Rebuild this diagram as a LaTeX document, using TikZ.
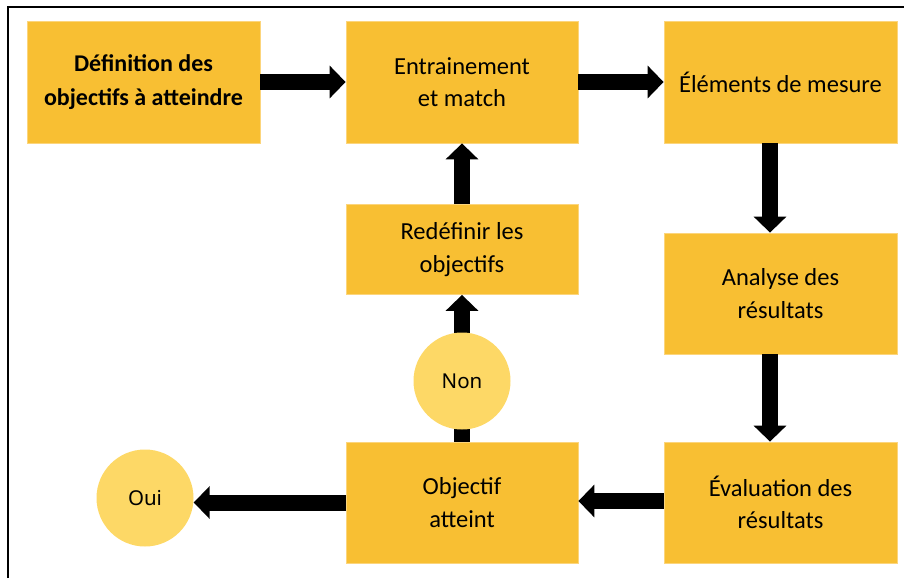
\documentclass[tikz,border=0pt]{standalone}
\usepackage{fontspec}
\setmainfont{Carlito}
\newfontfamily\circlefont{Noto Sans}
\usetikzlibrary{arrows.meta}
\definecolor{boxfill}{HTML}{F8BF33}
\definecolor{boxedge}{HTML}{FCD57C}
\definecolor{circfill}{HTML}{FDD866}
\begin{document}
\begin{tikzpicture}[x=1pt,y=-1pt,
  stepbox/.style={rectangle, fill=boxfill, draw=boxedge, line width=0.8pt,
    inner sep=0pt, align=center, font=\fontsize{24.5}{32.5}\selectfont},
  answer/.style={circle, fill=circfill, inner sep=0pt, minimum size=97pt,
    font=\circlefont\fontsize{20.5}{24}\selectfont},
  flow/.style={line width=16pt, -{Triangle[width=32pt,length=16pt]}}]
  \useasboundingbox (0,0) rectangle (904,578);
  % outer frame (top and left edges)
  \draw[line width=2pt] (8,578) -- (8,7) -- (904,7);

  % process boxes
  \node[stepbox, minimum width=233pt, minimum height=122pt, font=\bfseries\fontsize{24}{34}\selectfont]
    (def) at (143.5,82) {Définition des\\objectifs à atteindre};
  \node[stepbox, minimum width=232pt, minimum height=122pt] (ent) at (462,82) {Entrainement\\et match};
  \node[stepbox, minimum width=233pt, minimum height=122pt] (ele) at (780.5,82) {Éléments de mesure};
  \node[stepbox, minimum width=233pt, minimum height=121pt] (ana) at (780.5,293.5) {Analyse des\\résultats};
  \node[stepbox, minimum width=233pt, minimum height=121pt] (eva) at (780.5,502.5) {Évaluation des\\résultats};
  \node[stepbox, minimum width=232pt, minimum height=121pt] (obj) at (462,502.5) {Objectif\\atteint};
  \node[stepbox, minimum width=232pt, minimum height=90pt] (red) at (462,249.5) {Redéfinir les\\objectifs};

  % connectors
  \draw[flow] (def) -- (ent);
  \draw[flow] (ent) -- (ele);
  \draw[flow] ([xshift=-10.5pt]ele.south) -- ([xshift=-10.5pt]ana.north);
  \draw[flow] ([xshift=-10.5pt]ana.south) -- ([xshift=-10.5pt]eva.north);
  \draw[flow] ([yshift=1.5pt]eva.west) -- ([yshift=1.5pt]obj.east);
  \draw[flow] (obj.north) -- (red.south);
  \draw[flow] (red.north) -- (ent.south);

  % decision circles
  \node[answer] (non) at (462,381) {Non};
  \node[answer] (oui) at (145,498) {Oui};
  \draw[flow] (obj.west) -- (obj.west -| oui.east);
\end{tikzpicture}
\end{document}
